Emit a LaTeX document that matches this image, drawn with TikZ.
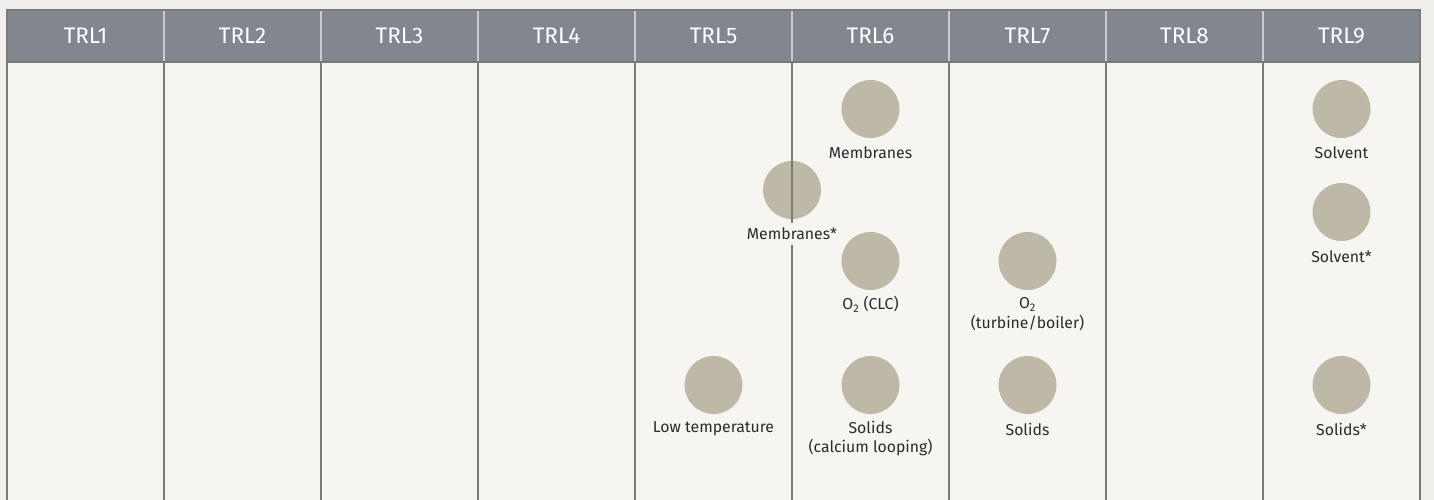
\documentclass[tikz,border=0pt]{standalone}
\usepackage{fontspec}
\setmainfont{Fira Sans}
\definecolor{outerbg}{HTML}{F0EFEB}
\definecolor{bodybg}{HTML}{F6F5F1}
\definecolor{headbg}{HTML}{81868F}
\definecolor{headsep}{HTML}{C9CBD0}
\definecolor{gridline}{HTML}{7A7A78}
\definecolor{dot}{HTML}{BEB8A7}
\definecolor{txt}{HTML}{2B2B2B}
\tikzset{
  hdr/.style={text=white, font=\fontsize{22.5}{26}\selectfont, inner sep=0pt},
  dotnode/.style={circle, fill=dot, minimum size=58pt, inner sep=0pt},
  lbl/.style={text=txt, font=\fontsize{15.8}{19.5}\selectfont, align=center, inner sep=1pt},
  grid/.style={draw=gridline, line width=1.5pt},
}
\begin{document}
\begin{tikzpicture}[x=1pt,y=-1pt]
\useasboundingbox (0,0) rectangle (1434,500);
\fill[outerbg] (0,0) rectangle (1434,500);
\fill[bodybg] (7,62) rectangle (1420,500);
\fill[headbg] (7,10) rectangle (1420,62);
\foreach \i in {1,...,8} \draw[headsep, line width=1.2pt] (7+157*\i,10) -- (7+157*\i,62);
\foreach \i in {1,...,9} \node[hdr] (h\i) at (7+157*\i-78.5,36) {TRL\i};
% body grid lines
\foreach \i in {0,1,2,3,4,6,7,8,9} \draw[grid] (7+157*\i,62) -- (7+157*\i,500);
\draw[grid] (7,62) -- (1420,62);
\draw[grid] (6.25,10) -- (1420.75,10);
\draw[grid] (7,10) -- (7,62);
\draw[grid] (1420,10) -- (1420,62);
% dots
\node[dotnode] (memb) at (870.5,109) {};
\node[dotnode] (membs) at (792,190) {};
\node[dotnode] (clc) at (870.5,261) {};
\node[dotnode] (lowt) at (713.5,385) {};
\node[dotnode] (calc) at (870.5,385) {};
\node[dotnode] (turb) at (1027.5,261) {};
\node[dotnode] (sol7) at (1027.5,385) {};
\node[dotnode] (solv) at (1341.5,109) {};
\node[dotnode] (solvs) at (1341.5,212) {};
\node[dotnode] (sol9) at (1341.5,385) {};
% line between TRL5 and TRL6 drawn over the circle
\draw[grid] (792,62) -- (792,500);
% labels
\node[lbl] (lmemb) at (870.5,153) {Membranes};
\node[lbl, fill=bodybg, inner ysep=5pt] (lmembs) at (792,234) {Membranes*};
\node[lbl] (lclc) at (870.5,304.5) {O\textsubscript{2} (CLC)};
\node[lbl] (llowt) at (713.5,429) {Low temperature};
\node[lbl] (lcalc) at (870.5,438.5) {Solids\\(calcium looping)};
\node[lbl] (lturb) at (1027.5,314) {O\textsubscript{2}\\(turbine/boiler)};
\node[lbl] (lsol7) at (1027.5,429) {Solids};
\node[lbl] (lsolv) at (1341.5,153) {Solvent};
\node[lbl] (lsolvs) at (1341.5,256.5) {Solvent*};
\node[lbl] (lsol9) at (1341.5,429) {Solids*};
\end{tikzpicture}
\end{document}
